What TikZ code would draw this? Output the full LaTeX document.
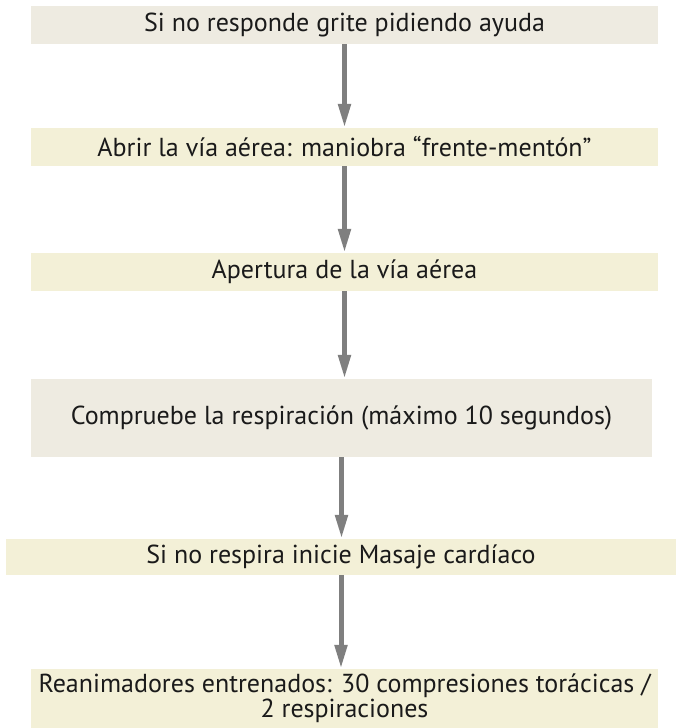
\documentclass[tikz,border=0pt]{standalone}
\usepackage{fontspec}
\setmainfont{PT Sans}
\usetikzlibrary{arrows.meta}
\definecolor{boxgray}{HTML}{EEEBE1}
\definecolor{boxyel}{HTML}{F3F0D7}
\definecolor{arrgray}{HTML}{7F7F7F}
\definecolor{txt}{HTML}{1A1A1A}
\begin{document}
\begin{tikzpicture}[x=1pt,y=-1pt,
  box/.style={rectangle,inner sep=0pt,text=txt,font=\fontsize{26}{23}\selectfont,align=center},
  arr/.style={draw=arrgray,line width=5pt,-{Triangle[width=12pt,length=24pt,fill=arrgray]}}]
\useasboundingbox (0,0) rectangle (676,728);
\node[box,fill=boxgray,minimum width=627pt,minimum height=38pt] (b1) at (344.5,25) {Si no responde grite pidiendo ayuda};
\node[box,fill=boxyel,minimum width=627pt,minimum height=38pt] (b2) at (344.5,147) {Abrir la vía aérea: maniobra “frente-mentón”};
\node[box,fill=boxyel,minimum width=627pt,minimum height=38pt] (b3) at (344.5,272) {Apertura de la vía aérea};
\node[box,fill=boxgray,minimum width=621pt,minimum height=78pt] (b4) at (341.5,418) {Compruebe la respiración (máximo 10 segundos)};
\node[box,fill=boxyel,minimum width=670pt,minimum height=36pt] (b5) at (341,557) {Si no respira inicie Masaje cardíaco};
\node[box,fill=boxyel,minimum width=627pt,minimum height=59pt] (b6) at (344.5,698.5) {Reanimadores entrenados: 30 compresiones torácicas /\\2 respiraciones};
\draw[arr] (b1.south) -- (b1.south |- b2.north);
\draw[arr] (b2.south) -- (b2.south |- b3.north);
\draw[arr] (b3.south) -- (b3.south |- b4.north);
\draw[arr] (b4.south) -- (b4.south |- b5.north);
\draw[arr] (b5.south) -- (b5.south |- b6.north);
\end{tikzpicture}
\end{document}
